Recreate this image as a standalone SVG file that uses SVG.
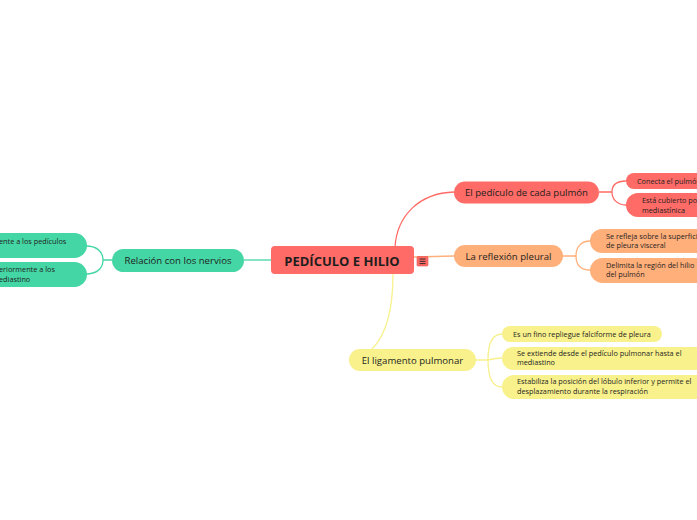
<svg xmlns="http://www.w3.org/2000/svg" width="697" height="520" viewBox="0 0 697 520">
<style>
text{font-family:"Open Sans","Noto Sans","Liberation Sans",sans-serif;fill:#1e1e1e;}
.c{text-anchor:middle;}
.m{font-size:9.6px;}
.s{font-size:7.3px;}
.red{fill:#FF6B66;}
.grn{fill:#45D6A5;}
.org{fill:#FFAF7A;}
.yel{fill:#F8F18C;}
.lr{stroke:#FF6B66;stroke-width:1.3;fill:none;}
.lg{stroke:#45D6A5;stroke-width:1.3;fill:none;}
.lo{stroke:#FFAF7A;stroke-width:1.3;fill:none;}
.ly{stroke:#F8F18C;stroke-width:1.3;fill:none;}
</style>
<rect width="697" height="520" fill="#fff"/>
<g id="connectors">
<path class="lr" d="M395,247 C397,215 420,193 454,192"/>
<path class="lo" d="M414,257 L454,256"/>
<path class="ly" d="M393,274 C393,310 386,335 372,349"/>
<path class="lg" d="M271,260 L244,260"/>
<path class="lg" d="M112,260 L103,260 M103,260 C103,251 96,246 86,246 M103,260 C103,269 96,274 86,274"/>
<path class="lr" d="M599,192 L612,192 M612,192 C612,185 617,181 626,181 M612,192 C612,199 617,205 626,205"/>
<path class="lo" d="M563,256 L576,256 M576,256 C576,247 581,241 590,241 M576,256 C576,265 581,270 590,270"/>
<path class="ly" d="M476,360 L488,360 M488,360 C488,344 492,334 502,334 M488,360 C492,359 496,358 502,358 M488,360 C488,376 492,387 502,387"/>
</g>
<g id="central">
<rect class="red" x="271" y="246" width="143" height="28" rx="4"/>
<text x="342" y="265.5" class="c" style="font-size:13px;font-weight:bold;">PEDÍCULO E HILIO</text>
<rect x="417" y="256.5" width="11" height="9.5" rx="1" fill="#FF6B66" stroke="#E0504C" stroke-width="0.6"/>
<path d="M419.5,259 h6 M419.5,261.3 h6 M419.5,263.6 h6" stroke="#222" stroke-width="0.9"/>
</g>
<g id="n-nervios">
<rect class="grn" x="112" y="249" width="132" height="23" rx="11.5"/>
<text x="178" y="263.8" class="c m">Relación con los nervios</text>
</g>
<g id="n-nervios-1">
<rect class="grn" x="-20" y="233" width="107" height="25" rx="12.5"/>
<text x="-1" y="243.8" class="s">ente a los pedículos</text>
</g>
<g id="n-nervios-2">
<rect class="grn" x="-20" y="262" width="107" height="25" rx="12.5"/>
<text x="-1" y="272" class="s">eriormente a los</text>
<text x="-1" y="282" class="s">ediastino</text>
</g>
<g id="n-pediculo">
<rect class="red" x="454" y="181.5" width="145" height="22" rx="11"/>
<text x="526.5" y="196" class="c m">El pedículo de cada pulmón</text>
</g>
<g id="n-pediculo-1">
<rect class="red" x="626" y="173" width="90" height="16" rx="8"/>
<text x="637" y="183.6" class="s">Conecta el pulmón</text>
</g>
<g id="n-pediculo-2">
<rect class="red" x="626" y="193" width="90" height="24" rx="12"/>
<text x="642" y="202.5" class="s">Está cubierto por</text>
<text x="642" y="212.8" class="s">mediastínica</text>
</g>
<g id="n-reflexion">
<rect class="org" x="454" y="245" width="109" height="22" rx="11"/>
<text x="508.5" y="259.6" class="c m">La reflexión pleural</text>
</g>
<g id="n-reflexion-1">
<rect class="org" x="590" y="229" width="120" height="24" rx="12"/>
<text x="606" y="238.5" class="s">Se refleja sobre la superficie</text>
<text x="606" y="248" class="s">de pleura visceral</text>
</g>
<g id="n-reflexion-2">
<rect class="org" x="590" y="258" width="120" height="25" rx="12.5"/>
<text x="606" y="267.8" class="s">Delimita la región del hilio</text>
<text x="606" y="277" class="s">del pulmón</text>
</g>
<g id="n-ligamento">
<rect class="yel" x="349" y="349" width="127" height="22" rx="11"/>
<text x="412.5" y="363.6" class="c m">El ligamento pulmonar</text>
</g>
<g id="n-ligamento-1">
<rect class="yel" x="502" y="326" width="160" height="16" rx="8"/>
<text x="513" y="336.5" class="s">Es un fino repliegue falciforme de pleura</text>
</g>
<g id="n-ligamento-2">
<rect class="yel" x="502" y="347" width="210" height="23" rx="11.5"/>
<text x="517" y="355.6" class="s">Se extiende desde el pedículo pulmonar hasta el</text>
<text x="517" y="365.4" class="s">mediastino</text>
</g>
<g id="n-ligamento-3">
<rect class="yel" x="502" y="375" width="210" height="24" rx="12"/>
<text x="517" y="383.8" class="s">Estabiliza la posición del lóbulo inferior y permite el</text>
<text x="517" y="393.6" class="s">desplazamiento durante la respiración</text>
</g>
</svg>
